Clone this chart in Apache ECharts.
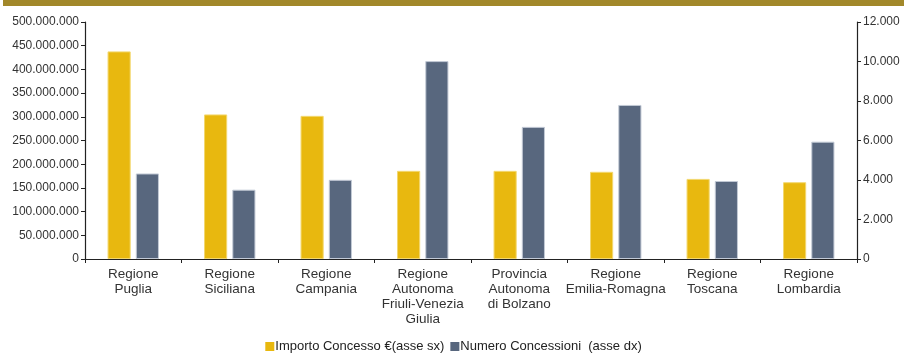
<!DOCTYPE html>
<html>
<head>
<meta charset="utf-8">
<script src="https://cdn.jsdelivr.net/npm/echarts@6/dist/echarts.min.js"></script>
<style>
html,body{margin:0;padding:0;background:#fff;}
#band{position:absolute;left:3px;top:0;width:901px;height:6px;background:#A2882A;}
#chart{position:absolute;left:0;top:0;width:907px;height:353px;}
</style>
</head>
<body>
<div id="band"></div>
<div id="chart"></div>
<script>
const categories = [
  "Regione\nPuglia",
  "Regione\nSiciliana",
  "Regione\nCampania",
  "Regione\nAutonoma\nFriuli-Venezia\nGiulia",
  "Provincia\nAutonoma\ndi Bolzano",
  "Regione\nEmilia-Romagna",
  "Regione\nToscana",
  "Regione\nLombardia"
];
const importoConcesso = [438000000, 305000000, 302000000, 186000000, 186000000, 184000000, 169000000, 162000000];
const numeroConcessioni = [4330, 3510, 4010, 10020, 6690, 7800, 3950, 5940];
const leftTicks = {min: 0, max: 500000000, interval: 50000000};
const rightTicks = {min: 0, max: 12000, interval: 2000};
const seriesNames = ["Importo Concesso \u20AC(asse sx)", "Numero Concessioni  (asse dx)"];

function fmt(v){
  return String(Math.round(v)).replace(/\B(?=(\d{3})+(?!\d))/g, ".");
}

const chart = echarts.init(document.getElementById('chart'), null, {renderer: 'canvas'});
const font = "'Liberation Sans', Arial, Helvetica, sans-serif";
chart.setOption({
  animation: false,
  textStyle: {fontFamily: font},
  grid: {left: 85, right: 50, top: 22, bottom: 94, containLabel: false},
  legend: {
    bottom: 0,
    padding: 0,
    left: 'center',
    itemWidth: 9,
    itemHeight: 9,
    itemGap: 6,
    icon: 'rect',
    itemStyle: {borderWidth: 0},
    textStyle: {fontFamily: font, fontSize: 13, color: '#222', padding: [0, 0, 0, -4]},
    data: seriesNames
  },
  xAxis: {
    type: 'category',
    data: categories,
    axisLine: {lineStyle: {color: '#222', width: 1.2}},
    axisTick: {show: true, length: 4, alignWithLabel: false, lineStyle: {color: '#222'}},
    axisLabel: {fontFamily: font, fontSize: 13.5, color: '#333', lineHeight: 15, interval: 0, margin: 8}
  },
  yAxis: [
    {
      type: 'value',
      min: leftTicks.min, max: leftTicks.max, interval: leftTicks.interval,
      position: 'left',
      splitLine: {show: false},
      axisLine: {show: true, lineStyle: {color: '#222', width: 1.2}},
      axisTick: {show: true, length: 4, lineStyle: {color: '#222'}},
      axisLabel: {fontFamily: font, fontSize: 12, color: '#333', margin: 6, formatter: fmt}
    },
    {
      type: 'value',
      min: rightTicks.min, max: rightTicks.max, interval: rightTicks.interval,
      position: 'right',
      splitLine: {show: false},
      axisLine: {show: true, lineStyle: {color: '#222', width: 1.2}},
      axisTick: {show: true, length: 4, lineStyle: {color: '#222'}},
      axisLabel: {fontFamily: font, fontSize: 12, color: '#333', margin: 6, formatter: fmt}
    }
  ],
  series: [
    {
      name: seriesNames[0],
      type: 'bar',
      yAxisIndex: 0,
      data: importoConcesso,
      barWidth: '24%',
      barGap: '22%',
      itemStyle: {color: '#E8B80F', borderColor: '#F3D870', borderWidth: 1}
    },
    {
      name: seriesNames[1],
      type: 'bar',
      yAxisIndex: 1,
      data: numeroConcessioni,
      barWidth: '24%',
      barGap: '22%',
      itemStyle: {color: '#58677E', borderColor: '#C3CAD6', borderWidth: 1}
    }
  ]
});
</script>
</body>
</html>
